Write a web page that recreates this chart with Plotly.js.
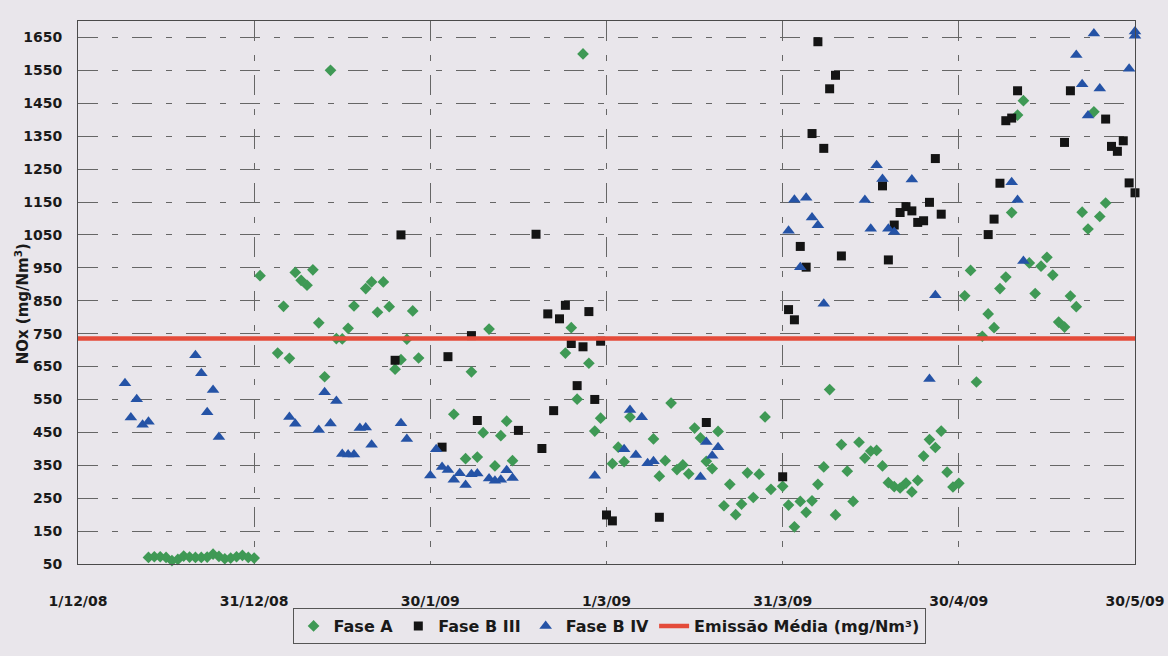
<!DOCTYPE html>
<html>
<head>
<meta charset="utf-8">
<script src="https://cdn.plot.ly/plotly-3.0.1.min.js"></script>
<style>
  html, body { margin: 0; padding: 0; background: #e9e6eb; }
  #chart { width: 1168px; height: 656px; }
</style>
</head>
<body>
<div id="chart"></div>
<script>
// ---- Data ----
const faseA_dates = [
  "2008-12-13","2008-12-14","2008-12-15","2008-12-16","2008-12-17","2008-12-18","2008-12-19","2008-12-20","2008-12-21","2008-12-22",
  "2008-12-23","2008-12-24","2008-12-25","2008-12-26","2008-12-27","2008-12-28","2008-12-29","2008-12-30","2008-12-31",
  "2009-01-01","2009-01-04","2009-01-05","2009-01-06","2009-01-07","2009-01-08","2009-01-09","2009-01-10","2009-01-11","2009-01-12",
  "2009-01-13","2009-01-14","2009-01-15","2009-01-16","2009-01-17","2009-01-19","2009-01-20","2009-01-21","2009-01-22","2009-01-23",
  "2009-01-24","2009-01-25","2009-01-26","2009-01-27","2009-01-28",
  "2009-02-03","2009-02-05","2009-02-06","2009-02-07","2009-02-08","2009-02-09","2009-02-10","2009-02-11","2009-02-12","2009-02-13",
  "2009-02-22","2009-02-23","2009-02-24","2009-02-25","2009-02-26","2009-02-27","2009-02-28",
  "2009-03-02","2009-03-03","2009-03-04","2009-03-05","2009-03-09","2009-03-10","2009-03-11","2009-03-12","2009-03-13","2009-03-14",
  "2009-03-15","2009-03-16","2009-03-17","2009-03-18","2009-03-19","2009-03-20","2009-03-21","2009-03-22","2009-03-23","2009-03-24",
  "2009-03-25","2009-03-26","2009-03-27","2009-03-28","2009-03-29","2009-03-31",
  "2009-04-01","2009-04-02","2009-04-03","2009-04-04","2009-04-05","2009-04-06","2009-04-07","2009-04-08","2009-04-09","2009-04-10",
  "2009-04-11","2009-04-12","2009-04-13","2009-04-14","2009-04-15","2009-04-16","2009-04-17","2009-04-18","2009-04-19","2009-04-20",
  "2009-04-21","2009-04-22","2009-04-23","2009-04-24","2009-04-25","2009-04-26","2009-04-27","2009-04-28","2009-04-29","2009-04-30",
  "2009-05-01","2009-05-02","2009-05-03","2009-05-04","2009-05-05","2009-05-06","2009-05-07","2009-05-08","2009-05-09","2009-05-10",
  "2009-05-11","2009-05-12","2009-05-13","2009-05-14","2009-05-15","2009-05-16","2009-05-17","2009-05-18","2009-05-19","2009-05-20",
  "2009-05-21","2009-05-22","2009-05-23","2009-05-24","2009-05-25"
];
const faseA_values = [
  70,72,72,70,60,64,74,71,70,70,71,80,73,66,68,72,76,70,68,
  926,691,833,675,936,912,897,944,783,619,1550,735,734,766,834,887,907,815,907,832,642,671,733,819,676,
  505,370,634,375,449,764,348,440,484,364,691,768,551,1600,660,454,493,
  355,405,361,497,430,317,364,539,337,351,324,463,433,362,340,453,227,292,200,232,327,252,323,497,277,286,
  229,163,240,207,242,292,345,580,199,413,332,240,420,372,393,395,348,297,285,281,296,269,304,378,428,404,454,329,284,295,
  865,942,603,742,810,768,887,922,1118,1414,1458,965,872,955,982,928,785,770,864,832,1119,1068,1424,1106,1147
];

const faseBIII_dates = [
  "2009-01-24","2009-01-25","2009-02-01","2009-02-02","2009-02-06","2009-02-07","2009-02-14","2009-02-17","2009-02-18","2009-02-19",
  "2009-02-20","2009-02-21","2009-02-22","2009-02-23","2009-02-24","2009-02-25","2009-02-26","2009-02-27","2009-02-28","2009-03-01",
  "2009-03-02","2009-03-10","2009-03-18","2009-03-31","2009-04-01","2009-04-02","2009-04-03","2009-04-04","2009-04-05","2009-04-06",
  "2009-04-07","2009-04-08","2009-04-09","2009-04-10","2009-04-17","2009-04-18","2009-04-19","2009-04-20","2009-04-21","2009-04-22",
  "2009-04-23","2009-04-24","2009-04-25","2009-04-26","2009-04-27","2009-05-05","2009-05-06","2009-05-07","2009-05-08","2009-05-09",
  "2009-05-10","2009-05-18","2009-05-19","2009-05-25","2009-05-26","2009-05-27","2009-05-28","2009-05-29","2009-05-30"
];
const faseBIII_values = [
  669,1050,405,680,744,486,456,1052,401,810,
  516,795,836,720,592,710,817,550,727,199,
  181,192,480,315,823,792,1015,952,1358,1637,
  1313,1494,1535,986,1199,974,1080,1118,1136,1123,
  1088,1093,1149,1282,1113,1051,1098,1207,1397,1405,
  1488,1331,1488,1402,1319,1304,1336,1208,1178
];

const faseBIV_dates = [
  "2008-12-09","2008-12-10","2008-12-11","2008-12-12","2008-12-13","2008-12-21","2008-12-22","2008-12-23","2008-12-24","2008-12-25",
  "2009-01-06","2009-01-07","2009-01-11","2009-01-12","2009-01-13","2009-01-14","2009-01-15","2009-01-16","2009-01-17","2009-01-18",
  "2009-01-19","2009-01-20","2009-01-25","2009-01-26","2009-01-30","2009-01-31","2009-02-01","2009-02-02","2009-02-03","2009-02-04",
  "2009-02-05","2009-02-06","2009-02-07","2009-02-09","2009-02-10","2009-02-11","2009-02-12","2009-02-13","2009-02-27","2009-03-04",
  "2009-03-05","2009-03-06","2009-03-07","2009-03-08","2009-03-09","2009-03-17","2009-03-18","2009-03-19","2009-03-20","2009-04-01",
  "2009-04-02","2009-04-03","2009-04-04","2009-04-05","2009-04-06","2009-04-07","2009-04-14","2009-04-15","2009-04-16","2009-04-17",
  "2009-04-18","2009-04-19","2009-04-22","2009-04-25","2009-04-26","2009-05-09","2009-05-10","2009-05-11","2009-05-20","2009-05-21",
  "2009-05-22","2009-05-23","2009-05-24","2009-05-29","2009-05-30","2009-05-30"
];
const faseBIV_values = [
  599,495,551,473,482,684,630,511,579,436,
  497,476,457,572,477,545,384,383,383,463,
  465,412,478,430,319,399,345,336,306,326,
  290,323,325,310,303,306,335,311,318,399,
  518,381,496,356,362,314,421,379,405,1063,
  1157,952,1163,1103,1079,841,1156,1069,1262,1220,
  1069,1059,1218,612,867,1210,1156,971,1597,1508,
  1413,1662,1495,1555,1668,1655
];

const media_dates = ["2008-12-01", "2009-05-30"];
const media_values = [735, 735];

const xTickVals = ["2008-12-01","2008-12-31","2009-01-30","2009-03-01","2009-03-31","2009-04-30","2009-05-30"];
const xTickText = ["1/12/08","31/12/08","30/1/09","1/3/09","31/3/09","30/4/09","30/5/09"];
const yTickVals = [50,150,250,350,450,550,650,750,850,950,1050,1150,1250,1350,1450,1550,1650];

const seriesNames = ["Fase A", "Fase B III", "Fase B IV", "Emissão Média (mg/Nm³)"];
const yTitleText = "NOx (mg/Nm<sup>3</sup>)";

// ---- Styles ----
const BG = "#e9e6eb";
const GRID_DASH = "20px,14px,6px,14px";
const FAMILY = "DejaVu Sans, Verdana, sans-serif";
const tickFont = {family: FAMILY, size: 14, color: "#1a1a1a", weight: "bold"};

const traces = [
  {
    type: "scatter", mode: "markers", name: seriesNames[0],
    x: faseA_dates, y: faseA_values, cliponaxis: false,
    marker: {symbol: "diamond", size: 9, color: "#3f9955"}
  },
  {
    type: "scatter", mode: "markers", name: seriesNames[1],
    x: faseBIII_dates, y: faseBIII_values, cliponaxis: false,
    marker: {symbol: "square", size: 9, color: "#141414"}
  },
  {
    type: "scatter", mode: "markers", name: seriesNames[2],
    x: faseBIV_dates, y: faseBIV_values, cliponaxis: false,
    marker: {symbol: "triangle-up", size: 11, color: "#2553a6"}
  },
  {
    type: "scatter", mode: "lines", name: seriesNames[3],
    x: media_dates, y: media_values,
    line: {color: "#e44b3a", width: 4.5}
  }
];

const layout = {
  width: 1168, height: 656,
  paper_bgcolor: BG, plot_bgcolor: BG,
  margin: {l: 78, r: 33, t: 21, b: 77},
  showlegend: true,
  xaxis: {
    type: "date",
    range: ["2008-12-01", "2009-05-30"],
    tickmode: "array", tickvals: xTickVals, ticktext: xTickText,
    ticks: "outside", ticklen: 24, tickcolor: "rgba(0,0,0,0)",
    tickfont: tickFont,
    showgrid: true, gridcolor: "#666666", gridwidth: 1, griddash: GRID_DASH,
    showline: true, linecolor: "#4a4a4a", linewidth: 1, mirror: true,
    zeroline: false
  },
  yaxis: {
    range: [50, 1700],
    tickmode: "array", tickvals: yTickVals,
    ticks: "outside", ticklen: 12, tickcolor: "rgba(0,0,0,0)",
    tickfont: tickFont,
    showgrid: true, gridcolor: "#666666", gridwidth: 1, griddash: GRID_DASH,
    showline: true, linecolor: "#4a4a4a", linewidth: 1, mirror: true,
    zeroline: false
  },
  annotations: [{
    text: yTitleText, xref: "paper", yref: "paper",
    x: -0.053, y: 0.48, xanchor: "center", yanchor: "middle",
    textangle: -90, showarrow: false,
    font: {family: FAMILY, size: 15, color: "#1a1a1a", weight: "bold"}
  }],
  legend: {
    orientation: "h",
    x: 0.203, xanchor: "left",
    y: -0.081, yanchor: "top",
    bgcolor: BG, bordercolor: "#555", borderwidth: 1,
    font: {family: FAMILY, size: 16, color: "#1a1a1a", weight: "bold"},
    itemwidth: 30, tracegroupgap: 0
  }
};

Plotly.newPlot("chart", traces, layout, {displayModeBar: false, responsive: false});
</script>
</body>
</html>
